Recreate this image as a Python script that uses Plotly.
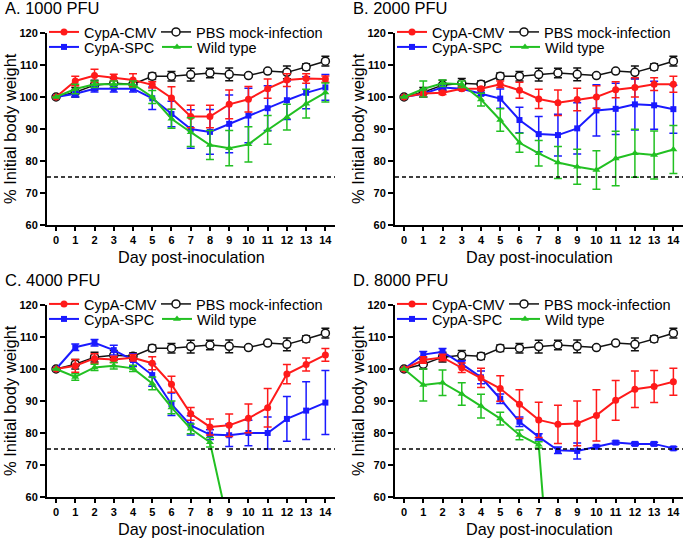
import plotly.graph_objects as go

days = list(range(15))

# shared mock-infected control
pbs_mean = [100, 101.5, 103.7, 104.3, 104.0, 106.5, 106.5, 107.0, 107.5, 107.1, 106.7, 108.1, 107.7, 109.4, 111.2]
pbs_err = [0, 1.5, 1.5, 1.5, 1.0, 1.0, 1.5, 2.0, 1.5, 2.0, 0.5, 0.5, 2.0, 1.0, 1.5]

# A. 1000 PFU
a_cmv = [100, 105.0, 106.7, 106.1, 105.3, 103.8, 99.7, 93.9, 93.9, 97.7, 99.3, 102.6, 105.3, 105.8, 105.6]
a_cmv_err = [0, 1.5, 2.0, 1.0, 2.0, 1.0, 3.5, 3.5, 3.5, 4.5, 4.0, 3.0, 2.0, 1.5, 1.0]
a_spc = [100, 101.0, 102.6, 102.6, 102.6, 99.6, 94.7, 90.0, 89.1, 91.6, 94.2, 96.5, 99.0, 101.3, 103.0]
a_spc_err = [0, 1.0, 1.0, 1.0, 1.0, 3.5, 4.0, 6.0, 7.0, 9.0, 8.5, 7.0, 6.0, 5.0, 4.0]
a_wt = [100, 102.5, 104.0, 104.0, 104.0, 100.0, 93.2, 89.0, 85.0, 84.0, 85.2, 89.7, 93.7, 97.9, 101.4]
a_wt_err = [0, 1.5, 1.0, 1.0, 1.0, 2.0, 3.0, 4.5, 4.5, 5.5, 5.5, 4.5, 4.0, 4.5, 3.0]

# B. 2000 PFU
b_cmv = [100, 101.1, 101.3, 102.6, 102.6, 104.0, 102.1, 99.4, 98.2, 99.2, 100.0, 102.3, 103.0, 104.0, 104.0]
b_cmv_err = [0, 1.0, 0.5, 0.5, 0.5, 1.0, 2.5, 3.0, 4.0, 3.5, 3.5, 2.5, 3.0, 2.0, 2.5]
b_spc = [100, 101.0, 103.0, 102.6, 101.0, 99.5, 92.8, 88.4, 88.1, 90.2, 95.8, 96.3, 97.7, 97.4, 96.2]
b_spc_err = [0, 1.0, 1.0, 0.5, 0.5, 3.0, 4.0, 5.5, 6.5, 8.0, 8.0, 8.0, 8.0, 7.5, 7.5]
b_wt = [100, 102.5, 104.3, 104.0, 99.2, 92.8, 85.7, 82.4, 79.5, 78.2, 77.2, 80.8, 82.4, 81.9, 83.6]
b_wt_err = [0, 2.5, 1.0, 1.0, 2.0, 3.5, 3.0, 4.0, 5.0, 5.5, 6.0, 8.5, 7.5, 7.5, 7.5]

# C. 4000 PFU
c_cmv = [100, 101.0, 103.3, 103.0, 103.5, 101.8, 95.2, 86.0, 81.9, 82.4, 84.6, 87.9, 98.4, 101.4, 104.4]
c_cmv_err = [0, 2.0, 1.5, 1.0, 1.0, 2.0, 2.5, 2.0, 2.5, 3.5, 4.5, 6.0, 3.0, 2.0, 2.0]
c_spc = [100, 106.8, 108.2, 105.9, 102.8, 98.1, 89.0, 82.4, 79.5, 79.3, 80.0, 80.0, 84.4, 87.0, 89.5]
c_spc_err = [0, 1.0, 1.0, 1.5, 2.0, 3.5, 3.5, 3.0, 1.5, 3.5, 4.0, 5.0, 7.0, 9.0, 10.0]
c_wt_days = [0, 1, 2, 3, 4, 5, 6, 7, 8, 9]
c_wt = [100, 97.5, 100.5, 101.0, 100.2, 95.5, 88.0, 81.3, 77.1, 50.0]
c_wt_err = [0, 1.0, 1.0, 1.0, 1.0, 2.0, 2.0, 1.5, 1.5, 0]

# D. 8000 PFU
d_cmv = [100, 102.8, 103.6, 100.4, 97.2, 93.9, 89.0, 84.1, 82.7, 83.0, 85.5, 90.2, 93.7, 94.5, 96.0]
d_cmv_err = [0, 1.0, 1.0, 1.5, 3.0, 4.0, 4.5, 5.5, 6.0, 7.0, 8.0, 6.2, 5.7, 5.0, 4.2]
d_spc = [100, 104.5, 105.4, 101.6, 97.4, 90.7, 83.5, 78.8, 74.6, 74.4, 75.7, 77.0, 76.6, 76.6, 75.2]
d_spc_err = [0, 1.0, 1.0, 1.0, 2.0, 1.5, 1.5, 1.0, 1.0, 2.5, 0.5, 0.5, 0.5, 0.5, 0.5]
d_wt_days = [0, 1, 2, 3, 4, 5, 6, 7, 8]
d_wt = [100, 95.0, 95.7, 92.2, 88.4, 84.5, 79.4, 76.3, 0]
d_wt_err = [0, 5.0, 4.0, 3.5, 3.7, 2.0, 1.5, 1.0, 0]

titles = ["A. 1000 PFU", "B. 2000 PFU", "C. 4000 PFU", "D. 8000 PFU"]
panels = [
    (days, a_cmv, a_cmv_err, a_spc, a_spc_err, days, a_wt, a_wt_err),
    (days, b_cmv, b_cmv_err, b_spc, b_spc_err, days, b_wt, b_wt_err),
    (days, c_cmv, c_cmv_err, c_spc, c_spc_err, c_wt_days, c_wt, c_wt_err),
    (days, d_cmv, d_cmv_err, d_spc, d_spc_err, d_wt_days, d_wt, d_wt_err),
]

W, H = 685, 539
RED, BLUE, GREEN, BLACK = "#ff1a1a", "#1a1aff", "#22c022", "#111111"
FONT = "Liberation Sans, Arial, sans-serif"

# pixel boxes of each plot area: (left, right, top, bottom)
boxes = [(47, 335, 33, 225), (395, 683, 33, 225), (47, 335, 305, 497), (395, 683, 305, 497)]

fig = go.Figure()
layout = dict(
    width=W, height=H, margin=dict(l=0, r=0, t=0, b=0, autoexpand=False),
    paper_bgcolor="white", plot_bgcolor="white", showlegend=True,
    font=dict(family=FONT, color="black"),
    annotations=[], shapes=[],
)


def err(vals, color):
    return dict(type="data", array=vals, visible=True, color=color, thickness=1.5, width=4)


leg_no = 1


def next_legend(x_px, y_px):
    # one legend per entry so every entry sits where the reference has it
    global leg_no
    leg_no += 1
    name = "legend" + str(leg_no)
    layout[name] = dict(
        x=x_px / W, xanchor="left", y=1 - y_px / H, yanchor="middle",
        font=dict(family=FONT, size=14.5, color="black"), itemwidth=30,
        bgcolor="rgba(0,0,0,0)", borderwidth=0)
    return name


for i, (dx, cmv, cmv_e, spc, spc_e, wdx, wt, wt_e) in enumerate(panels):
    n = "" if i == 0 else str(i + 1)
    xa, ya = "x" + n, "y" + n
    l, r, t, b = boxes[i]

    fig.add_trace(go.Scatter(
        x=days, y=pbs_mean, error_y=err(pbs_err, BLACK), name="PBS mock-infection",
        mode="lines+markers", line=dict(color=BLACK, width=1.5),
        marker=dict(symbol="circle", size=8, color="white", line=dict(color=BLACK, width=1.5)),
        xaxis=xa, yaxis=ya, legend=next_legend(l + 109, t - 1)))
    fig.add_trace(go.Scatter(
        x=dx, y=spc, error_y=err(spc_e, BLUE), name="CypA-SPC",
        mode="lines+markers", line=dict(color=BLUE, width=2),
        marker=dict(symbol="square", size=6, color=BLUE),
        xaxis=xa, yaxis=ya, legend=next_legend(l - 3, t + 14)))
    fig.add_trace(go.Scatter(
        x=dx, y=cmv, error_y=err(cmv_e, RED), name="CypA-CMV",
        mode="lines+markers", line=dict(color=RED, width=2),
        marker=dict(symbol="circle", size=7, color=RED),
        xaxis=xa, yaxis=ya, legend=next_legend(l - 3, t - 1)))
    fig.add_trace(go.Scatter(
        x=wdx, y=wt, error_y=err(wt_e, GREEN), name="Wild type",
        mode="lines+markers", line=dict(color=GREEN, width=2),
        marker=dict(symbol="triangle-up", size=7, color=GREEN),
        xaxis=xa, yaxis=ya, legend=next_legend(l + 110, t + 14)))

    xd = [l / W, r / W]
    yd = [1 - b / H, 1 - t / H]
    layout["xaxis" + n] = dict(
        domain=xd, anchor=ya, range=[-0.47, 14.5], tickvals=days, automargin=False,
        showgrid=False, zeroline=False, showline=True, linecolor="black", linewidth=2,
        ticks="outside", ticklen=4, tickwidth=1.5, tickcolor="black",
        tickfont=dict(family=FONT, size=11, color="black", weight="bold"))
    layout["yaxis" + n] = dict(
        domain=yd, anchor=xa, range=[60, 120], tickvals=[60, 70, 80, 90, 100, 110, 120],
        automargin=False,
        showgrid=False, zeroline=False, showline=True, linecolor="black", linewidth=2,
        ticks="outside", ticklen=5, tickwidth=1.5, tickcolor="black",
        tickfont=dict(family=FONT, size=11, color="black", weight="bold"))

    layout["shapes"].append(dict(
        type="line", xref=xa + " domain", yref=ya, x0=0, x1=1, y0=75, y1=75,
        line=dict(color="black", width=1.5, dash="4px,3px")))

    layout["annotations"] += [
        dict(text=titles[i], xref="paper", yref="paper", x=(l - 44) / W, y=1 - (t - 25) / H,
             xanchor="left", yanchor="middle", showarrow=False,
             font=dict(family=FONT, size=16.5, color="black")),
        dict(text="Day post-inoculation", xref="paper", yref="paper", x=(l + r) / 2 / W,
             y=1 - (b + 32) / H, xanchor="center", yanchor="middle", showarrow=False,
             font=dict(family=FONT, size=16.2, color="black")),
        dict(text="% Initial body weight", xref="paper", yref="paper", x=(l - 37) / W,
             y=1 - (t + b) / 2 / H, xanchor="center", yanchor="middle", textangle=-90,
             showarrow=False, font=dict(family=FONT, size=16.5, color="black")),
    ]

fig.update_layout(**layout)
fig.write_html("out.html", config={"displayModeBar": False},
               post_script="document.body.style.margin='0';")
